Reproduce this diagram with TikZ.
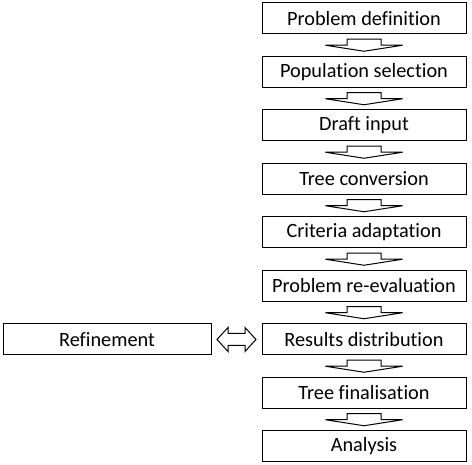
\documentclass[tikz,border=0pt]{standalone}
\usepackage{fontspec}
\setmainfont{Carlito}[Ligatures=NoCommon]
\usetikzlibrary{positioning,calc}

\begin{document}
\begin{tikzpicture}[x=1pt, y=1pt,
        stage/.style={draw, line width=1pt, minimum width=204pt, minimum height=31pt, inner sep=0pt, outer sep=0pt, font=\fontsize{20.3}{24}\selectfont},
        hollow/.style={draw, line width=1pt, line join=miter}]
                \useasboundingbox (0,0) rectangle (472,-465);
                \node[stage] (def) at (364,-18.5) {Problem definition};
                \node[stage, below=22.5pt of def] (pop) {Population selection};
                \node[stage, below=22.5pt of pop] (draft) {Draft input};
                \node[stage, below=22.5pt of draft] (tree) {Tree conversion};
                \node[stage, below=22.5pt of tree] (crit) {Criteria adaptation};
                \node[stage, below=22.5pt of crit] (reeval) {Problem re-evaluation};
                \node[stage, below=22.5pt of reeval] (res) {Results distribution};
                \node[stage, below=22.5pt of res] (final) {Tree finalisation};
                \node[stage, below=22.5pt of final] (ana) {Analysis};
                \node[stage, minimum width=208pt, left=51pt of res] (ref) {Refinement};
                \foreach \a/\b in {def/pop, pop/draft, draft/tree, tree/crit, crit/reeval, reeval/res, res/final, final/ana} {
                    \coordinate (m) at ($(\a.south)!0.5!(\b.north)$);
                    \draw[hollow] (m) ++(-17,6) -- ++(34,0) -- ++(0,-6) -- ++(21.5,0) -- ++(-38.5,-6) -- ++(-38.5,6) -- ++(21.5,0) -- cycle;
                }
                \coordinate (mid) at ($(ref.east)!0.5!(res.west)$);
                \draw[hollow] (mid) ++(-19.5,0) -- ++(11,12) -- ++(0,-6) -- ++(17,0) -- ++(0,6) -- ++(11,-12) -- ++(-11,-12) -- ++(0,6) -- ++(-17,0) -- ++(0,-6) -- cycle;
            \end{tikzpicture}
\end{document}
